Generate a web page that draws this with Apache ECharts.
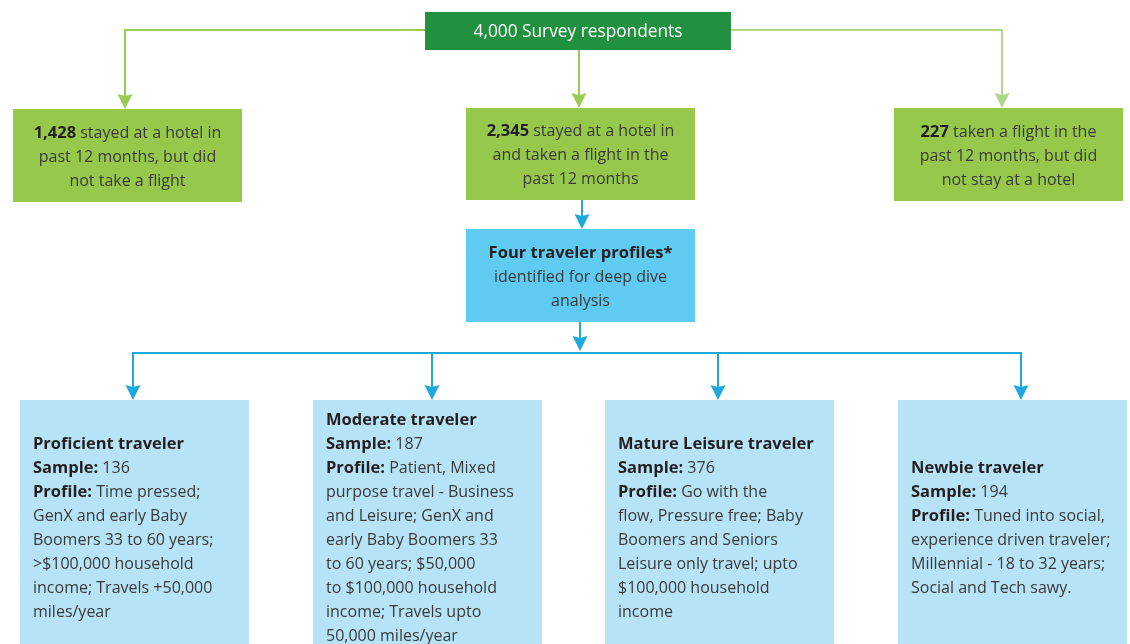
<!DOCTYPE html>
<html>
<head>
<meta charset="utf-8">
<script src="https://cdn.jsdelivr.net/npm/echarts@6/dist/echarts.min.js"></script>
<style>
  html, body { margin: 0; padding: 0; background: #ffffff; }
  #chart { width: 1130px; height: 644px; }
</style>
</head>
<body>
<div id="chart"></div>
<script>
  // data
  const totalRespondents = 4000;
  const segmentCounts = [1428, 2345, 227];
  const segmentTexts = [
    ['stayed at a hotel in', 'past 12 months, but did', 'not take a flight'],
    ['stayed at a hotel in', 'and taken a flight in the', 'past 12 months'],
    ['taken a flight in the', 'past 12 months, but did', 'not stay at a hotel']
  ];
  const profileHeader = ['Four traveler profiles*', 'identified for deep dive', 'analysis'];
  const profileNames = ['Proficient traveler', 'Moderate traveler', 'Mature Leisure traveler', 'Newbie traveler'];
  const profileSamples = [136, 187, 376, 194];
  const profileLines = [
    ['Time pressed;', 'GenX and early Baby', 'Boomers 33 to 60 years;', '>$100,000 household', 'income; Travels +50,000', 'miles/year'],
    ['Patient, Mixed', 'purpose travel - Business', 'and Leisure; GenX and', 'early Baby Boomers 33', 'to 60 years; $50,000', 'to $100,000 household', 'income; Travels upto', '50,000 miles/year'],
    ['Go with the', 'flow, Pressure free; Baby', 'Boomers and Seniors', 'Leisure only travel; upto', '$100,000 household', 'income'],
    ['Tuned into social,', 'experience driven traveler;', 'Millennial - 18 to 32 years;', 'Social and Tech sawy.']
  ];

  // layout (in the 1130 x 644 frame)
  const W = 1130, H = 644;
  const FONT = '"Open Sans", "Noto Sans", sans-serif';
  const boxLayout = [
    [425, 12, 731, 50],      // top
    [13, 109, 242, 202],     // segments
    [466, 108, 695, 200],
    [894, 108, 1123, 201],
    [466, 229, 695, 322],    // profile header
    [20, 400, 249, 660],     // profiles
    [313, 400, 542, 660],
    [605, 400, 834, 660],
    [898, 400, 1127, 660]
  ];
  const boxKind = ['top', 'seg', 'seg', 'seg', 'head', 'prof', 'prof', 'prof', 'prof'];
  const boxFill = { top: '#21903f', seg: '#96c94b', head: '#5fcbf3', prof: '#b7e3f7' };

  const fmt = v => v.toLocaleString('en-US');

  const boxText = [
    fmt(totalRespondents) + ' Survey respondents'
  ];
  segmentCounts.forEach((c, i) => {
    boxText.push('{b|' + fmt(c) + '} ' + segmentTexts[i].join('\n'));
  });
  boxText.push('{b|' + profileHeader[0] + '}\n' + profileHeader.slice(1).join('\n'));
  profileNames.forEach((n, i) => {
    boxText.push('{b|' + n + '}\n{b|Sample:} ' + profileSamples[i] + '\n{b|Profile:} ' + profileLines[i].join('\n'));
  });

  const green = '#9bcb57', greenLight = '#b0d888', blue = '#1ea8e0';
  const arrowHalf = 7.5;
  // plain connector paths (no head)
  const rails = [
    { coords: [[425, 30], [125, 30], [125, 100]], color: green },
    { coords: [[731, 30], [1002, 30], [1002, 100]], color: greenLight },
    { coords: [[132, 353], [1022, 353]], color: blue }
  ];
  // straight segments ending in an arrow head at the tip
  const arrows = [
    { from: [125, 95], tip: [125, 109], color: green },
    { from: [579, 50], tip: [579, 108], color: green },
    { from: [1002, 95], tip: [1002, 108], color: greenLight },
    { from: [582, 200], tip: [582, 229], color: blue },
    { from: [580, 322], tip: [580, 351], color: blue },
    { from: [133, 353], tip: [133, 400], color: blue },
    { from: [432, 353], tip: [432, 400], color: blue },
    { from: [718, 353], tip: [718, 400], color: blue },
    { from: [1021, 353], tip: [1021, 400], color: blue }
  ];

  const rich = {
    b: { fontFamily: FONT, fontSize: 16.5, fontWeight: 'bold', fill: '#231f20', lineHeight: 24 }
  };

  let myChart = echarts.init(document.getElementById('chart'));
  myChart.setOption({
    animation: false,
    grid: { left: 0, right: 0, top: 0, bottom: 0 },
    xAxis: { type: 'value', min: 0, max: W, show: false },
    yAxis: { type: 'value', min: 0, max: H, inverse: true, show: false },
    series: [
      {
        type: 'custom',
        z: 1,
        data: boxLayout.map((b, i) => [i]),
        renderItem: function (params, api) {
          const i = api.value(0);
          const b = boxLayout[i];
          const kind = boxKind[i];
          const p0 = api.coord([b[0], b[1]]);
          const p1 = api.coord([b[2], b[3]]);
          const rect = {
            type: 'rect',
            shape: { x: p0[0], y: p0[1], width: p1[0] - p0[0], height: p1[1] - p0[1] },
            style: { fill: boxFill[kind] }
          };
          let text;
          if (kind === 'prof') {
            text = {
              type: 'text',
              x: p0[0] + 13,
              y: api.coord([0, 528])[1],
              style: {
                text: boxText[i], rich: rich,
                fontFamily: FONT, fontSize: 16, fill: '#3a3a3a', lineHeight: 24,
                align: 'left', verticalAlign: 'middle'
              }
            };
          } else {
            text = {
              type: 'text',
              x: (p0[0] + p1[0]) / 2,
              y: (p0[1] + p1[1]) / 2 + 1.5,
              style: {
                text: boxText[i], rich: rich,
                fontFamily: FONT, fontSize: kind === 'top' ? 17.3 : 16,
                fill: kind === 'top' ? '#ffffff' : '#3a3a3a', lineHeight: 24,
                align: 'center', verticalAlign: 'middle'
              }
            };
          }
          return { type: 'group', children: [rect, text] };
        }
      },
      {
        type: 'lines',
        coordinateSystem: 'cartesian2d',
        polyline: true,
        z: 3,
        symbol: 'none',
        lineStyle: { width: 2, opacity: 1 },
        data: rails.map(c => ({ coords: c.coords, lineStyle: { color: c.color } }))
      },
      {
        type: 'lines',
        coordinateSystem: 'cartesian2d',
        z: 4,
        symbol: ['none', 'path://M6,0 L12,15 L6,13 L0,15 Z'],
        symbolSize: 15,
        symbolKeepAspect: true,
        lineStyle: { width: 2, opacity: 1 },
        data: arrows.map(c => ({
          coords: [c.from, [c.tip[0], c.tip[1] - arrowHalf]],
          lineStyle: { color: c.color },
          itemStyle: { color: c.color }
        }))
      }
    ]
  });
</script>
</body>
</html>
